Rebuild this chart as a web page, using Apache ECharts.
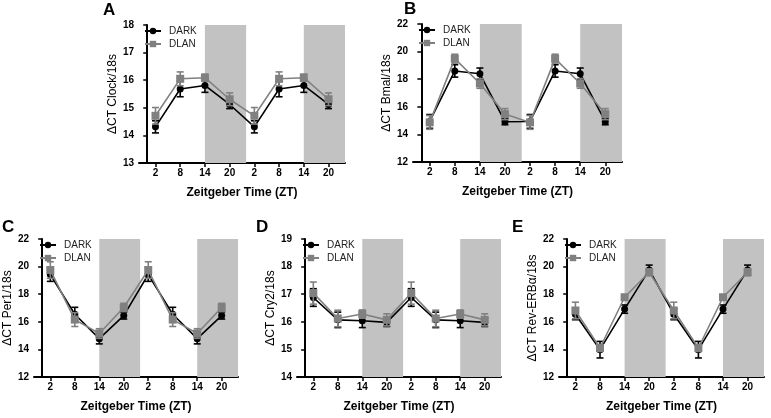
<!DOCTYPE html>
<html><head><meta charset="utf-8">
<script src="https://cdn.jsdelivr.net/npm/echarts@6/dist/echarts.min.js"></script>
<style>html,body{margin:0;padding:0;background:#fff}#c{width:771px;height:418px}</style>
</head><body><div id="c"></div>
<script>
// ---- data ----
const ztPositions = [2, 8, 14, 20, 26, 32, 38, 44];
const ztTickLabels = ['2', '8', '14', '20', '2', '8', '14', '20'];
const darkPhaseStarts = [14, 38];
const darkPhaseEnds = [24, 48];

const panelLetters = ['A', 'B', 'C', 'D', 'E'];
const yAxisNames = ['ΔCT Clock/18s', 'ΔCT Bmal/18s', 'ΔCT Per1/18s', 'ΔCT Cry2/18s', 'ΔCT Rev-ERBα/18s'];
const yMins = [13, 12, 12, 14, 12];
const yMaxs = [18, 22, 22, 19, 22];
const yIntervals = [1, 2, 2, 1, 2];

const clockDark    = [14.31, 15.68, 15.81, 15.12, 14.31, 15.68, 15.81, 15.12];
const clockDarkErr = [0.22, 0.28, 0.25, 0.15, 0.22, 0.28, 0.25, 0.15];
const clockDlan    = [14.71, 16.05, 16.09, 15.31, 14.71, 16.05, 16.09, 15.31];
const clockDlanErr = [0.30, 0.25, 0.13, 0.23, 0.30, 0.25, 0.13, 0.23];

const bmalDark    = [14.94, 18.60, 18.39, 14.92, 14.94, 18.60, 18.39, 14.92];
const bmalDarkErr = [0.50, 0.45, 0.42, 0.22, 0.50, 0.45, 0.42, 0.22];
const bmalDlan    = [14.87, 19.49, 17.69, 15.47, 14.87, 19.49, 17.69, 15.47];
const bmalDlanErr = [0.50, 0.32, 0.35, 0.40, 0.50, 0.32, 0.35, 0.40];

const per1Dark    = [19.43, 16.55, 14.78, 16.45, 19.43, 16.55, 14.78, 16.45];
const per1DarkErr = [0.50, 0.50, 0.38, 0.25, 0.50, 0.50, 0.38, 0.25];
const per1Dlan    = [19.75, 16.16, 15.15, 17.04, 19.75, 16.16, 15.15, 17.04];
const per1DlanErr = [0.60, 0.50, 0.35, 0.30, 0.60, 0.50, 0.35, 0.30];

const cry2Dark    = [16.88, 16.07, 16.04, 15.98, 16.88, 16.07, 16.04, 15.98];
const cry2DarkErr = [0.32, 0.28, 0.25, 0.15, 0.32, 0.28, 0.25, 0.15];
const cry2Dlan    = [17.04, 16.12, 16.28, 16.07, 17.04, 16.12, 16.28, 16.07];
const cry2DlanErr = [0.40, 0.30, 0.15, 0.22, 0.40, 0.30, 0.15, 0.22];

const revDark    = [16.55, 13.98, 16.92, 19.76, 16.55, 13.98, 16.92, 19.76];
const revDarkErr = [0.40, 0.60, 0.30, 0.35, 0.40, 0.60, 0.30, 0.35];
const revDlan    = [16.82, 14.10, 17.78, 19.59, 16.82, 14.10, 17.78, 19.59];
const revDlanErr = [0.60, 0.25, 0.15, 0.25, 0.60, 0.25, 0.15, 0.25];

const darkSeries = [clockDark, bmalDark, per1Dark, cry2Dark, revDark];
const darkErrs = [clockDarkErr, bmalDarkErr, per1DarkErr, cry2DarkErr, revDarkErr];
const dlanSeries = [clockDlan, bmalDlan, per1Dlan, cry2Dlan, revDlan];
const dlanErrs = [clockDlanErr, bmalDlanErr, per1DlanErr, cry2DlanErr, revDlanErr];

// ---- layout ----
const grids = [
  {left: 139, top: 25, width: 206, height: 138},
  {left: 413, top: 24, width: 209, height: 138},
  {left: 34,  top: 239, width: 204, height: 138},
  {left: 297, top: 239, width: 204, height: 138},
  {left: 559, top: 239, width: 205, height: 138}
];
const letterPos = [[103, 2], [404, 1], [2, 219], [256, 219], [512, 219]];

const FONT = '"Liberation Sans", Arial, Helvetica, sans-serif';
const DARK_COLOR = '#000000';
const DLAN_COLOR = '#808080';
const SHADE = '#c2c2c2';

function errRender(color) {
  return function (params, api) {
    const x = api.value(0), lo = api.value(1), hi = api.value(2);
    const a = api.coord([x, lo]), b = api.coord([x, hi]);
    const w = 3.5;
    const st = {stroke: color, lineWidth: 1.6};
    return {type: 'group', children: [
      {type: 'line', shape: {x1: a[0], y1: a[1], x2: b[0], y2: b[1]}, style: st},
      {type: 'line', shape: {x1: a[0] - w, y1: a[1], x2: a[0] + w, y2: a[1]}, style: st},
      {type: 'line', shape: {x1: b[0] - w, y1: b[1], x2: b[0] + w, y2: b[1]}, style: st}
    ]};
  };
}

const option = {
  backgroundColor: '#fff',
  animation: false,
  title: panelLetters.map((l, i) => ({
    text: l, left: letterPos[i][0], top: letterPos[i][1], padding: 0,
    textStyle: {fontFamily: FONT, fontSize: 17, fontWeight: 'bold', color: '#000'}
  })),
  grid: grids.map(g => Object.assign({containLabel: false}, g)),
  legend: grids.map((g, i) => ({
    data: ['DARK', 'DLAN'], orient: 'vertical', selectedMode: false,
    left: g.left + 5, top: g.top + 1, itemWidth: 16, itemHeight: 8, itemGap: 3,
    padding: 0,
    textStyle: {fontFamily: FONT, fontSize: 10, color: '#222', padding: [0, 0, 0, 3]}
  })),
  xAxis: grids.map((g, i) => ({
    type: 'value', gridIndex: i, min: -2, max: 48,
    name: 'Zeitgeber Time (ZT)', nameLocation: 'middle', nameGap: 24,
    nameTextStyle: {fontFamily: FONT, fontSize: 12, fontWeight: 'bold', color: '#000'},
    axisLine: {show: true, lineStyle: {color: '#000', width: 2}},
    axisTick: {show: true, customValues: ztPositions, length: 4, lineStyle: {color: '#000', width: 1.5}},
    axisLabel: {
      customValues: ztPositions, margin: 5,
      fontFamily: FONT, fontSize: 10, fontWeight: 'bold', color: '#000',
      formatter: v => ztTickLabels[ztPositions.indexOf(v)]
    },
    splitLine: {show: false}
  })),
  yAxis: grids.map((g, i) => ({
    type: 'value', gridIndex: i, min: yMins[i], max: yMaxs[i], interval: yIntervals[i],
    name: yAxisNames[i], nameLocation: 'middle', nameGap: 20,
    nameTextStyle: {fontFamily: FONT, fontSize: 12, color: '#000'},
    axisLine: {show: true, lineStyle: {color: '#000', width: 2}},
    axisTick: {show: true, length: 4, lineStyle: {color: '#000', width: 1.5}},
    axisLabel: {margin: 5, fontFamily: FONT, fontSize: 10, fontWeight: 'bold', color: '#000'},
    splitLine: {show: false}
  })),
  series: []
};

grids.forEach((g, i) => {
  const span = yMaxs[i] - yMins[i];
  // dark-phase shading
  option.series.push({
    type: 'line', xAxisIndex: i, yAxisIndex: i, data: [], silent: true, clip: false, z: 1,
    markArea: {
      silent: true,
      itemStyle: {color: SHADE},
      data: darkPhaseStarts.map((s, k) => [
        {xAxis: s, yAxis: yMins[i]},
        {xAxis: darkPhaseEnds[k], yAxis: yMaxs[i] + span * 0.04}
      ])
    }
  });
  option.series.push({
    type: 'custom', xAxisIndex: i, yAxisIndex: i, z: 3, silent: true,
    renderItem: errRender(DARK_COLOR),
    encode: {x: 0, y: [1, 2]},
    data: ztPositions.map((x, k) => [x, darkSeries[i][k] - darkErrs[i][k], darkSeries[i][k] + darkErrs[i][k]])
  });
  option.series.push({
    name: 'DARK', type: 'line', xAxisIndex: i, yAxisIndex: i, z: 4,
    symbol: 'circle', symbolSize: 7,
    lineStyle: {color: DARK_COLOR, width: 1.6}, itemStyle: {color: DARK_COLOR},
    data: ztPositions.map((x, k) => [x, darkSeries[i][k]])
  });
  option.series.push({
    type: 'custom', xAxisIndex: i, yAxisIndex: i, z: 5, silent: true,
    renderItem: errRender(DLAN_COLOR),
    encode: {x: 0, y: [1, 2]},
    data: ztPositions.map((x, k) => [x, dlanSeries[i][k] - dlanErrs[i][k], dlanSeries[i][k] + dlanErrs[i][k]])
  });
  option.series.push({
    name: 'DLAN', type: 'line', xAxisIndex: i, yAxisIndex: i, z: 6,
    symbol: 'rect', symbolSize: 8,
    lineStyle: {color: DLAN_COLOR, width: 1.6}, itemStyle: {color: DLAN_COLOR},
    data: ztPositions.map((x, k) => [x, dlanSeries[i][k]])
  });
});

const chart = echarts.init(document.getElementById('c'), null, {renderer: 'canvas'});
chart.setOption(option);
</script>
</body></html>
